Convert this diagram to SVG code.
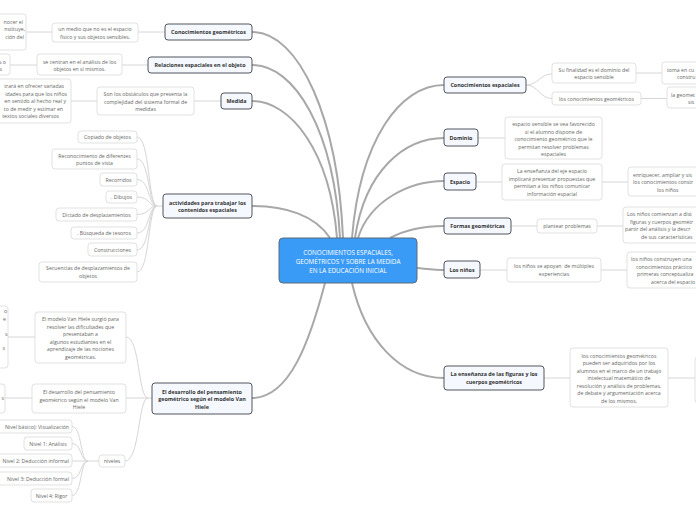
<svg xmlns="http://www.w3.org/2000/svg" width="696" height="520" viewBox="0 0 696 520">
<style>
text{font-family:"Open Sans","Noto Sans",sans-serif;}
.m rect{fill:#f5f9ff;stroke:#50555c;stroke-width:1;}
.m text{font-size:5.4px;font-weight:bold;fill:#333;text-anchor:middle;}
.s rect{fill:#fff;stroke:#d9d9d9;stroke-width:0.8;}
.s text{font-size:5.2px;fill:#666;text-anchor:middle;}
.s text.e{text-anchor:end;}
.s text.b{text-anchor:start;}
.c rect{fill:#3a9bf7;stroke:#5a6b7a;stroke-width:1;}
.c text{font-size:6.3px;fill:#fff;text-anchor:middle;}
.main path{fill:none;stroke:#a8a8a8;stroke-width:2;}
.sec path{fill:none;stroke:#d6d6d6;stroke-width:1;}
</style>
<g id="connectors">
<g class="main">
<path d="M343 238C338 120 300 32 252 32"/>
<path d="M340 238C334 130 295 65 252 65"/>
<path d="M337 238C330 150 290 101 252 101"/>
<path d="M330 238C315 215 285 206 252 206"/>
<path d="M325 283C310 340 290 398 252 398"/>
<path d="M352 238C360 140 400 85 444 85"/>
<path d="M355 238C365 170 405 138 444 138"/>
<path d="M358 238C370 200 410 181 444 181"/>
<path d="M390 238C405 230 425 226 444 226"/>
<path d="M417 268C428 269 436 270 444 270"/>
<path d="M352 283C365 340 400 378 444 378"/>
</g>
<g class="sec">
<path d="M526 85C538 85 540 74 552 74M526 85C538 85 540 98.5 552 98.5"/>
<path d="M636 73H662M641 98.5H667"/>
<path d="M478 138H505M476 182H502M602 182H628"/>
<path d="M511 226H537M597 226H623"/>
<path d="M480 270H507M601 270H627"/>
<path d="M544 378H570M668 378H695"/>
<path d="M26 32H52M138 32H165M10 65H37M122 65H148M71 101H97M194 101H221"/>
<path d="M137 137C150 137 148 206 157 206M137 159C150 159 148 206 157 206M137 179.5C150 179.5 148 206 157 206M137 197C150 197 148 206 157 206M137 214.5C150 214.5 148 206 157 206M137 233C150 233 148 206 157 206M137 250C150 250 148 206 157 206M137 272C150 272 148 206 157 206M157 206H163"/>
<path d="M126 337C140 337 138 398 148 398M126 398H152M125 461C140 461 138 398 148 398"/>
<path d="M8 337H35M5 398H32"/>
<path d="M99 461H88M88 461C80 461 82 426.5 72 426.5M88 461C80 461 82 443.5 72 443.5M88 461H72M88 461C80 461 82 478.5 72 478.5M88 461C80 461 82 495.5 72 495.5"/>
</g>
</g>
<g id="center" class="c"><rect x="279" y="238" width="138" height="45" rx="4"/><text x="348" y="254.5">CONOCIMIENTOS ESPACIALES,</text><text x="348" y="263.5">GEOMÉTRICOS Y SOBRE LA MEDIDA</text><text x="348" y="272.5">EN LA EDUCACIÓN INICIAL</text></g>
<g id="n-cg" class="m"><rect x="165" y="24" width="87" height="16" rx="3"/><text x="208.5" y="34">Conocimientos geométricos</text></g>
<g id="n-re" class="m"><rect x="148" y="57" width="104" height="16" rx="3"/><text x="200" y="67">Relaciones espaciales en el objeto</text></g>
<g id="n-me" class="m"><rect x="221" y="93" width="31" height="16" rx="3"/><text x="236.5" y="103">Medida</text></g>
<g id="n-ac" class="m"><rect x="163" y="194" width="89" height="24" rx="3"/><text x="207.5" y="204.5">actividades para trabajar los</text><text x="207.5" y="212">contenidos espaciales</text></g>
<g id="n-vh" class="m"><rect x="152" y="383" width="100" height="31" rx="3"/><text x="202" y="393.5">El desarrollo del pensamiento</text><text x="202" y="401">geométrico según el modelo Van</text><text x="202" y="408.5">Hiele</text></g>
<g id="s-cg1" class="s"><rect x="52" y="23" width="86" height="19" rx="3"/><text x="95" y="31">un medio que no es el espacio</text><text x="95" y="38.5">físico y sus objetos sensibles.</text></g>
<g id="s-cg2" class="s"><rect x="-20" y="14" width="46" height="36" rx="3"/><text class="e" x="23" y="24">nocer el</text><text class="e" x="25" y="31">nstituye,</text><text class="e" x="24" y="38.5">ción del</text></g>
<g id="s-re1" class="s"><rect x="37" y="54" width="85" height="21" rx="3"/><text x="79.5" y="63.5">se centran en el análisis de los</text><text x="79.5" y="71">objetos en sí mismos.</text></g>
<g id="s-re2" class="s"><rect x="-30" y="54" width="40" height="21" rx="3"/><text class="e" x="6" y="63.5">s o</text><text class="e" x="2" y="71">s</text></g>
<g id="s-me1" class="s"><rect x="97" y="87" width="97" height="28" rx="3"/><text x="145.5" y="96">Son los obstáculos que presenta la</text><text x="145.5" y="103.5">complejidad del sistema formal de</text><text x="145.5" y="111">medidas</text></g>
<g id="s-me2" class="s"><rect x="-40" y="79" width="111" height="44" rx="3"/><text class="e" x="64" y="88">trará en ofrecer variadas</text><text class="e" x="67" y="95.5">idades para que los niños</text><text class="e" x="66" y="103">en sentido al hecho real y</text><text class="e" x="63" y="110.5">to de medir y estimar en</text><text class="e" x="59" y="118">textos sociales diversos</text></g>
<g id="s-a1" class="s"><rect x="78" y="131" width="59" height="12" rx="3"/><text x="107.5" y="139">Copiado de objetos</text></g>
<g id="s-a2" class="s"><rect x="52" y="149" width="85" height="20" rx="3"/><text x="94.5" y="157.5">Reconocimiento de diferentes</text><text x="94.5" y="165">puntos de vista</text></g>
<g id="s-a3" class="s"><rect x="100" y="173" width="37" height="13" rx="3"/><text x="118.5" y="181.5">Recorridos</text></g>
<g id="s-a4" class="s"><rect x="106" y="191" width="31" height="12" rx="3"/><text x="121.5" y="199">. Dibujos</text></g>
<g id="s-a5" class="s"><rect x="56" y="208" width="81" height="13" rx="3"/><text x="96.5" y="216.5">Dictado de desplazamientos</text></g>
<g id="s-a6" class="s"><rect x="71" y="227" width="66" height="12" rx="3"/><text x="104" y="235">. Búsqueda de tesoros</text></g>
<g id="s-a7" class="s"><rect x="88" y="243" width="49" height="13" rx="3"/><text x="112.5" y="251.5">Construcciones</text></g>
<g id="s-a8" class="s"><rect x="39" y="262" width="98" height="20" rx="3"/><text x="88" y="270">Secuencias de desplazamientos de</text><text x="88" y="277.5">objetos</text></g>
<g id="s-vh1" class="s"><rect x="35" y="312" width="91" height="51" rx="3"/><text x="80.5" y="321">El modelo Van Hiele surgió para</text><text x="80.5" y="328.5">resolver las dificultades que</text><text x="80.5" y="336">presentaban a</text><text x="80.5" y="343.5">algunos estudiantes en el</text><text x="80.5" y="351">aprendizaje de las nociones</text><text x="80.5" y="358.5">geométricas.</text></g>
<g id="s-vh1b" class="s"><rect x="-30" y="306" width="38" height="62" rx="3"/><text class="e" x="7" y="313">o</text><text class="e" x="6" y="321">e</text><text class="e" x="7.5" y="336">s</text><text class="e" x="5" y="350">s</text></g>
<g id="s-vh2" class="s"><rect x="32" y="384" width="94" height="29" rx="3"/><text x="79" y="394">El desarrollo del pensamiento</text><text x="79" y="401.5">geométrico según el modelo Van</text><text x="79" y="409">Hiele</text></g>
<g id="s-vh2b" class="s"><rect x="-30" y="384" width="35" height="29" rx="3"/><text class="e" x="4" y="400">s</text></g>
<g id="s-niv" class="s"><rect x="99" y="455" width="26" height="12" rx="3"/><text x="112" y="463">niveles</text></g>
<g id="s-n0" class="s"><rect x="-20" y="420" width="92" height="13" rx="3"/><text class="e" x="69" y="428.5">Nivel básico): Visualización</text></g>
<g id="s-n1" class="s"><rect x="24" y="437" width="48" height="13" rx="3"/><text x="48" y="445.5">Nivel 1: Análisis</text></g>
<g id="s-n2" class="s"><rect x="-20" y="454" width="92" height="13" rx="3"/><text class="e" x="69" y="462.5">Nivel 2: Deducción informal</text></g>
<g id="s-n3" class="s"><rect x="-5" y="472" width="77" height="13" rx="3"/><text class="e" x="69" y="480.5">Nivel 3: Deducción formal</text></g>
<g id="s-n4" class="s"><rect x="31" y="489" width="41" height="13" rx="3"/><text x="51.5" y="497.5">Nivel 4: Rigor</text></g>
<g id="n-ce" class="m"><rect x="444" y="77" width="82" height="16" rx="3"/><text x="485" y="87">Conocimientos espaciales</text></g>
<g id="n-do" class="m"><rect x="444" y="129" width="34" height="17" rx="3"/><text x="461" y="139.5">Dominio</text></g>
<g id="n-es" class="m"><rect x="444" y="173" width="32" height="17" rx="3"/><text x="460" y="183.5">Espacio</text></g>
<g id="n-fg" class="m"><rect x="444" y="218" width="67" height="16" rx="3"/><text x="477.5" y="228">Formas geométricas</text></g>
<g id="n-ln" class="m"><rect x="444" y="261" width="36" height="17" rx="3"/><text x="462" y="271.5">Los niños</text></g>
<g id="n-ef" class="m"><rect x="444" y="366" width="100" height="24" rx="3"/><text x="494" y="376">La enseñanza de las figuras y los</text><text x="494" y="384">cuerpos geométricos</text></g>
<g id="s-ce1" class="s"><rect x="552" y="63" width="84" height="20" rx="3"/><text x="594" y="71.5">Su finalidad es el dominio del</text><text x="594" y="79">espacio sensible</text></g>
<g id="s-ce1b" class="s"><rect x="662" y="62" width="60" height="22" rx="3"/><text class="b" x="667" y="71.5">toma en cu</text><text class="b" x="677" y="79">constru</text></g>
<g id="s-ce2" class="s"><rect x="552" y="92" width="89" height="13" rx="3"/><text x="596.5" y="100.5">los conocimientos geométricos</text></g>
<g id="s-ce2b" class="s"><rect x="667" y="87" width="50" height="21" rx="3"/><text class="b" x="671" y="97">la geomet</text><text class="b" x="688" y="104">sis</text></g>
<g id="s-do1" class="s"><rect x="505" y="117" width="97" height="42" rx="3"/><text x="553.5" y="126">espacio sensible se vea favorecido</text><text x="553.5" y="133.5">si el alumno dispone de</text><text x="553.5" y="141">conocimiento geométrico que le</text><text x="553.5" y="148.5">permitan resolver problemas</text><text x="553.5" y="156">espaciales</text></g>
<g id="s-es1" class="s"><rect x="502" y="164" width="100" height="36" rx="3"/><text x="552" y="173">La enseñanza del eje espacio</text><text x="552" y="180.5">implicará presentar propuestas que</text><text x="552" y="188">permitan a los niños comunicar</text><text x="552" y="195.5">información espacial</text></g>
<g id="s-es2" class="s"><rect x="628" y="167" width="80" height="29" rx="3"/><text class="b" x="633" y="177">enriquecer, ampliar y sis</text><text class="b" x="633" y="184">los conocimientos constr</text><text class="b" x="657" y="191.5">los niños</text></g>
<g id="s-fg1" class="s"><rect x="537" y="219" width="60" height="14" rx="3"/><text x="567" y="228">plantear problemas</text></g>
<g id="s-fg2" class="s"><rect x="623" y="207" width="85" height="36" rx="3"/><text class="b" x="627" y="216">Los niños comienzan a dist</text><text class="b" x="630" y="223.5">figuras y cuerpos geométr</text><text class="b" x="625" y="231">partir del análisis y la descr</text><text class="b" x="641" y="238.5">de sus características</text></g>
<g id="s-ln1" class="s"><rect x="507" y="258" width="94" height="24" rx="3"/><text x="554" y="268" xml:space="preserve">los niños se apoyan  de múltiples</text><text x="554" y="275.5">experiencias</text></g>
<g id="s-ln2" class="s"><rect x="627" y="252" width="80" height="36" rx="3"/><text class="b" x="631" y="261">los niños construyen una</text><text class="b" x="636" y="268.5">conocimientos práctico</text><text class="b" x="637" y="276">primeras conceptualiza</text><text class="b" x="651" y="283.5">acerca del espacio</text></g>
<g id="s-ef1" class="s"><rect x="570" y="348" width="98" height="59" rx="3"/><text x="619" y="357.5">los conocimientos geométricos</text><text x="619" y="365">pueden ser adquiridos por los</text><text x="619" y="372.8">alumnos en el marco de un trabajo</text><text x="619" y="380">intelectual matemático de</text><text x="619" y="387.5">resolución y análisis de problemas,</text><text x="619" y="395">de debate y argumentación acerca</text><text x="619" y="402.8">de los mismos.</text></g>
<g id="s-ef2" class="s"><rect x="695" y="357" width="20" height="46" rx="3"/></g>
</svg>
